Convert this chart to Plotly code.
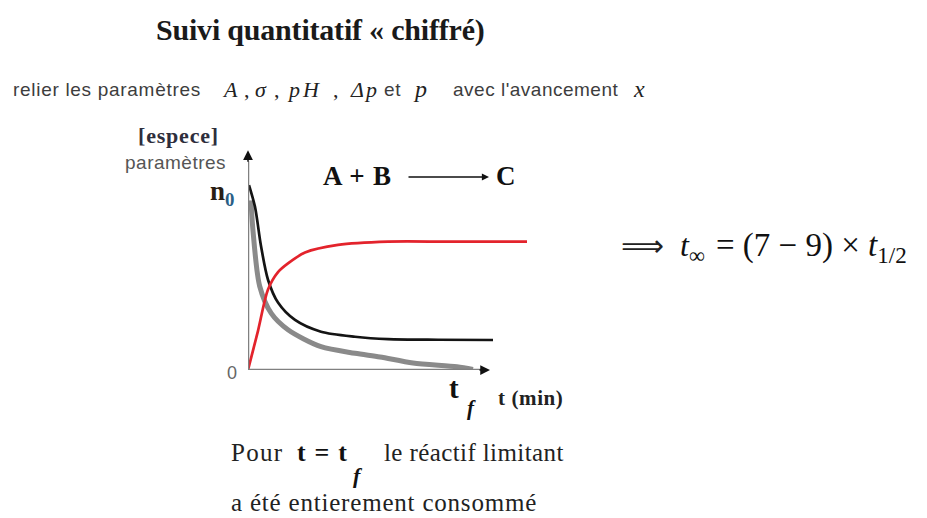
import plotly.graph_objects as go

W, H = 927, 518

# Reaction A + B -> C : time in minutes, amounts in arbitrary units
t_A = [0.1, 0.7, 1.3, 2.0, 3.0, 4.7, 7.3, 10.7, 14.0, 19.0, 24.5]
n_A = [8.5, 7.5, 5.7, 4.15, 3.1, 2.3, 1.76, 1.53, 1.42, 1.39, 1.38]

t_B = [0.3, 0.5, 1.17, 2.33, 4.0, 7.3, 10.7, 13.2, 16.5, 20.9, 22.5]
n_B = [7.8, 6.4, 3.85, 2.6, 1.85, 1.07, 0.77, 0.6, 0.32, 0.15, 0.03]

t_C = [0, 1, 2, 3, 4, 5.7, 9, 14, 20, 27.9]
n_C = [0, 1.8, 3.7, 4.5, 4.9, 5.4, 5.75, 5.9, 5.9, 5.9]

T_MAX, N_MAX = 28, 10.6
X_AXIS_END, Y_AXIS_END = 24.2, 10.1


def px(x):
    return x / W


def py(y):
    return 1 - y / H


SERIF = "Liberation Serif, Times New Roman, serif"
SANS = "Liberation Sans, Arial, sans-serif"

fig = go.Figure()

fig.add_trace(go.Scatter(x=t_B, y=n_B, mode="lines",
                         line=dict(color="#8a8a8a", width=5, shape="spline", smoothing=0.8),
                         hoverinfo="skip"))
fig.add_trace(go.Scatter(x=t_A, y=n_A, mode="lines",
                         line=dict(color="#141414", width=2.7, shape="spline", smoothing=0.8),
                         hoverinfo="skip"))
fig.add_trace(go.Scatter(x=t_C, y=n_C, mode="lines",
                         line=dict(color="#e3232c", width=2.7, shape="spline", smoothing=0.8),
                         hoverinfo="skip"))

# axes drawn as lines with arrow heads
fig.add_shape(type="line", xref="x", yref="y", x0=0, y0=0, x1=X_AXIS_END - 0.8, y1=0,
              line=dict(color="#808080", width=2.5))
fig.add_shape(type="line", xref="x", yref="y", x0=0, y0=0, x1=0, y1=Y_AXIS_END - 0.5,
              line=dict(color="#808080", width=2.5))

ann = []
ann.append(dict(x=X_AXIS_END, y=0, xref="x", yref="y", ax=-12, ay=0, showarrow=True,
                arrowhead=2, arrowsize=1.3, arrowwidth=1.5, arrowcolor="#111", text=""))
ann.append(dict(x=0, y=Y_AXIS_END, xref="x", yref="y", ax=0, ay=13, showarrow=True,
                arrowhead=2, arrowsize=1.3, arrowwidth=1.5, arrowcolor="#111", text=""))


def txt(text, x, y, size, family=SERIF, color="#111", xanchor="left", yanchor="middle",
        spacing=None, **kw):
    if spacing is not None:
        text = f'<span style="letter-spacing:{spacing}px">{text}</span>'
    ann.append(dict(text=text, x=px(x), y=py(y), xref="paper", yref="paper",
                    xanchor=xanchor, yanchor=yanchor, showarrow=False,
                    font=dict(size=size, family=family, color=color), **kw))


# headings
txt("<b>Suivi quantitatif « chiffré)</b>", 154, 30, 30, color="#1a1a1a", spacing=-0.2)

SUB = "#3d3d3d"
txt("relier les paramètres", 11, 89, 19, family=SANS, color=SUB, spacing=0.7)
txt("<i>A</i>", 220, 89, 22, color="#222", spacing=1)
txt(",", 242, 89, 22, color="#222")
txt("<i>σ</i>", 253, 89, 22, color="#222", spacing=1)
txt(",", 272, 89, 22, color="#222")
txt("<i>pH</i>", 285, 89, 22, color="#222", spacing=3)
txt(",", 331, 89, 22, color="#222")
txt("<i>Δp</i>", 348, 89, 22, color="#222", spacing=2)
txt("et", 382, 89, 19, family=SANS, color=SUB, spacing=0.7)
txt("<i>p</i>", 411, 89, 24, color="#222", spacing=2)
txt("avec l'avancement", 451, 89, 19, family=SANS, color=SUB, spacing=0.5)
txt("<i>x</i>", 631, 89, 24, color="#222", spacing=2)

# axis labels
txt("<b>[espece]</b>", 178, 136, 22, color="#2e2e3c", xanchor="center", spacing=0.8)
txt("paramètres", 175, 163, 19, family=SANS, color="#555", xanchor="center", spacing=0.5)
txt('<b>n</b><sub><b><span style="fill:#2a5f86">0</span></b></sub>', 208, 193, 27, color="#2a1e14")
txt("0", 239, 373, 18, family=SANS, color="#666", xanchor="right")
txt("<b>t</b>", 447, 388, 29, color="#111")
txt("<i><b>f</b></i>", 465, 408, 21, color="#111")
txt("<b>t (min)</b>", 496, 398, 21, color="#222", spacing=0.6)

# reaction equation
txt("<b>A + B</b>", 321, 176, 27, color="#111", spacing=0.8)
ann.append(dict(x=px(489), y=py(177), xref="paper", yref="paper", ax=-82, ay=0,
                showarrow=True, arrowhead=2, arrowsize=1.1, arrowwidth=1.3,
                arrowcolor="#111", text=""))
txt("<b>C</b>", 494, 176, 27, color="#111")

# completion time relation
txt("⟹", 619, 246, 30, family="DejaVu Sans, sans-serif", color="#222")
txt("<i>t</i><sub>∞</sub>", 678, 247, 32, color="#111")
txt("= (7 − 9) × <i>t</i><sub>1/2</sub>", 714, 247, 33, color="#111")

# caption
CAP = 25
txt("Pour", 229, 452, CAP, color="#222", spacing=1.3)
txt("<b>t = t</b>", 295, 452, 26, color="#111", spacing=1.2)
txt("<i><b>f</b></i>", 351, 475, 22, color="#111")
txt("le réactif limitant", 382, 452, CAP, color="#222", spacing=0.4)
txt("a été entierement consommé", 229, 502, CAP, color="#222", spacing=0.8)

fig.update_layout(
    width=W, height=H, margin=dict(l=0, r=0, t=0, b=0),
    paper_bgcolor="white", plot_bgcolor="white", showlegend=False,
    xaxis=dict(domain=[px(248), px(248 + 10 * T_MAX)], range=[0, T_MAX],
               visible=False, fixedrange=True),
    yaxis=dict(domain=[py(370), py(370 - 21.75 * N_MAX)], range=[0, N_MAX],
               visible=False, fixedrange=True),
    annotations=ann,
)

fig.write_html("out.html")
